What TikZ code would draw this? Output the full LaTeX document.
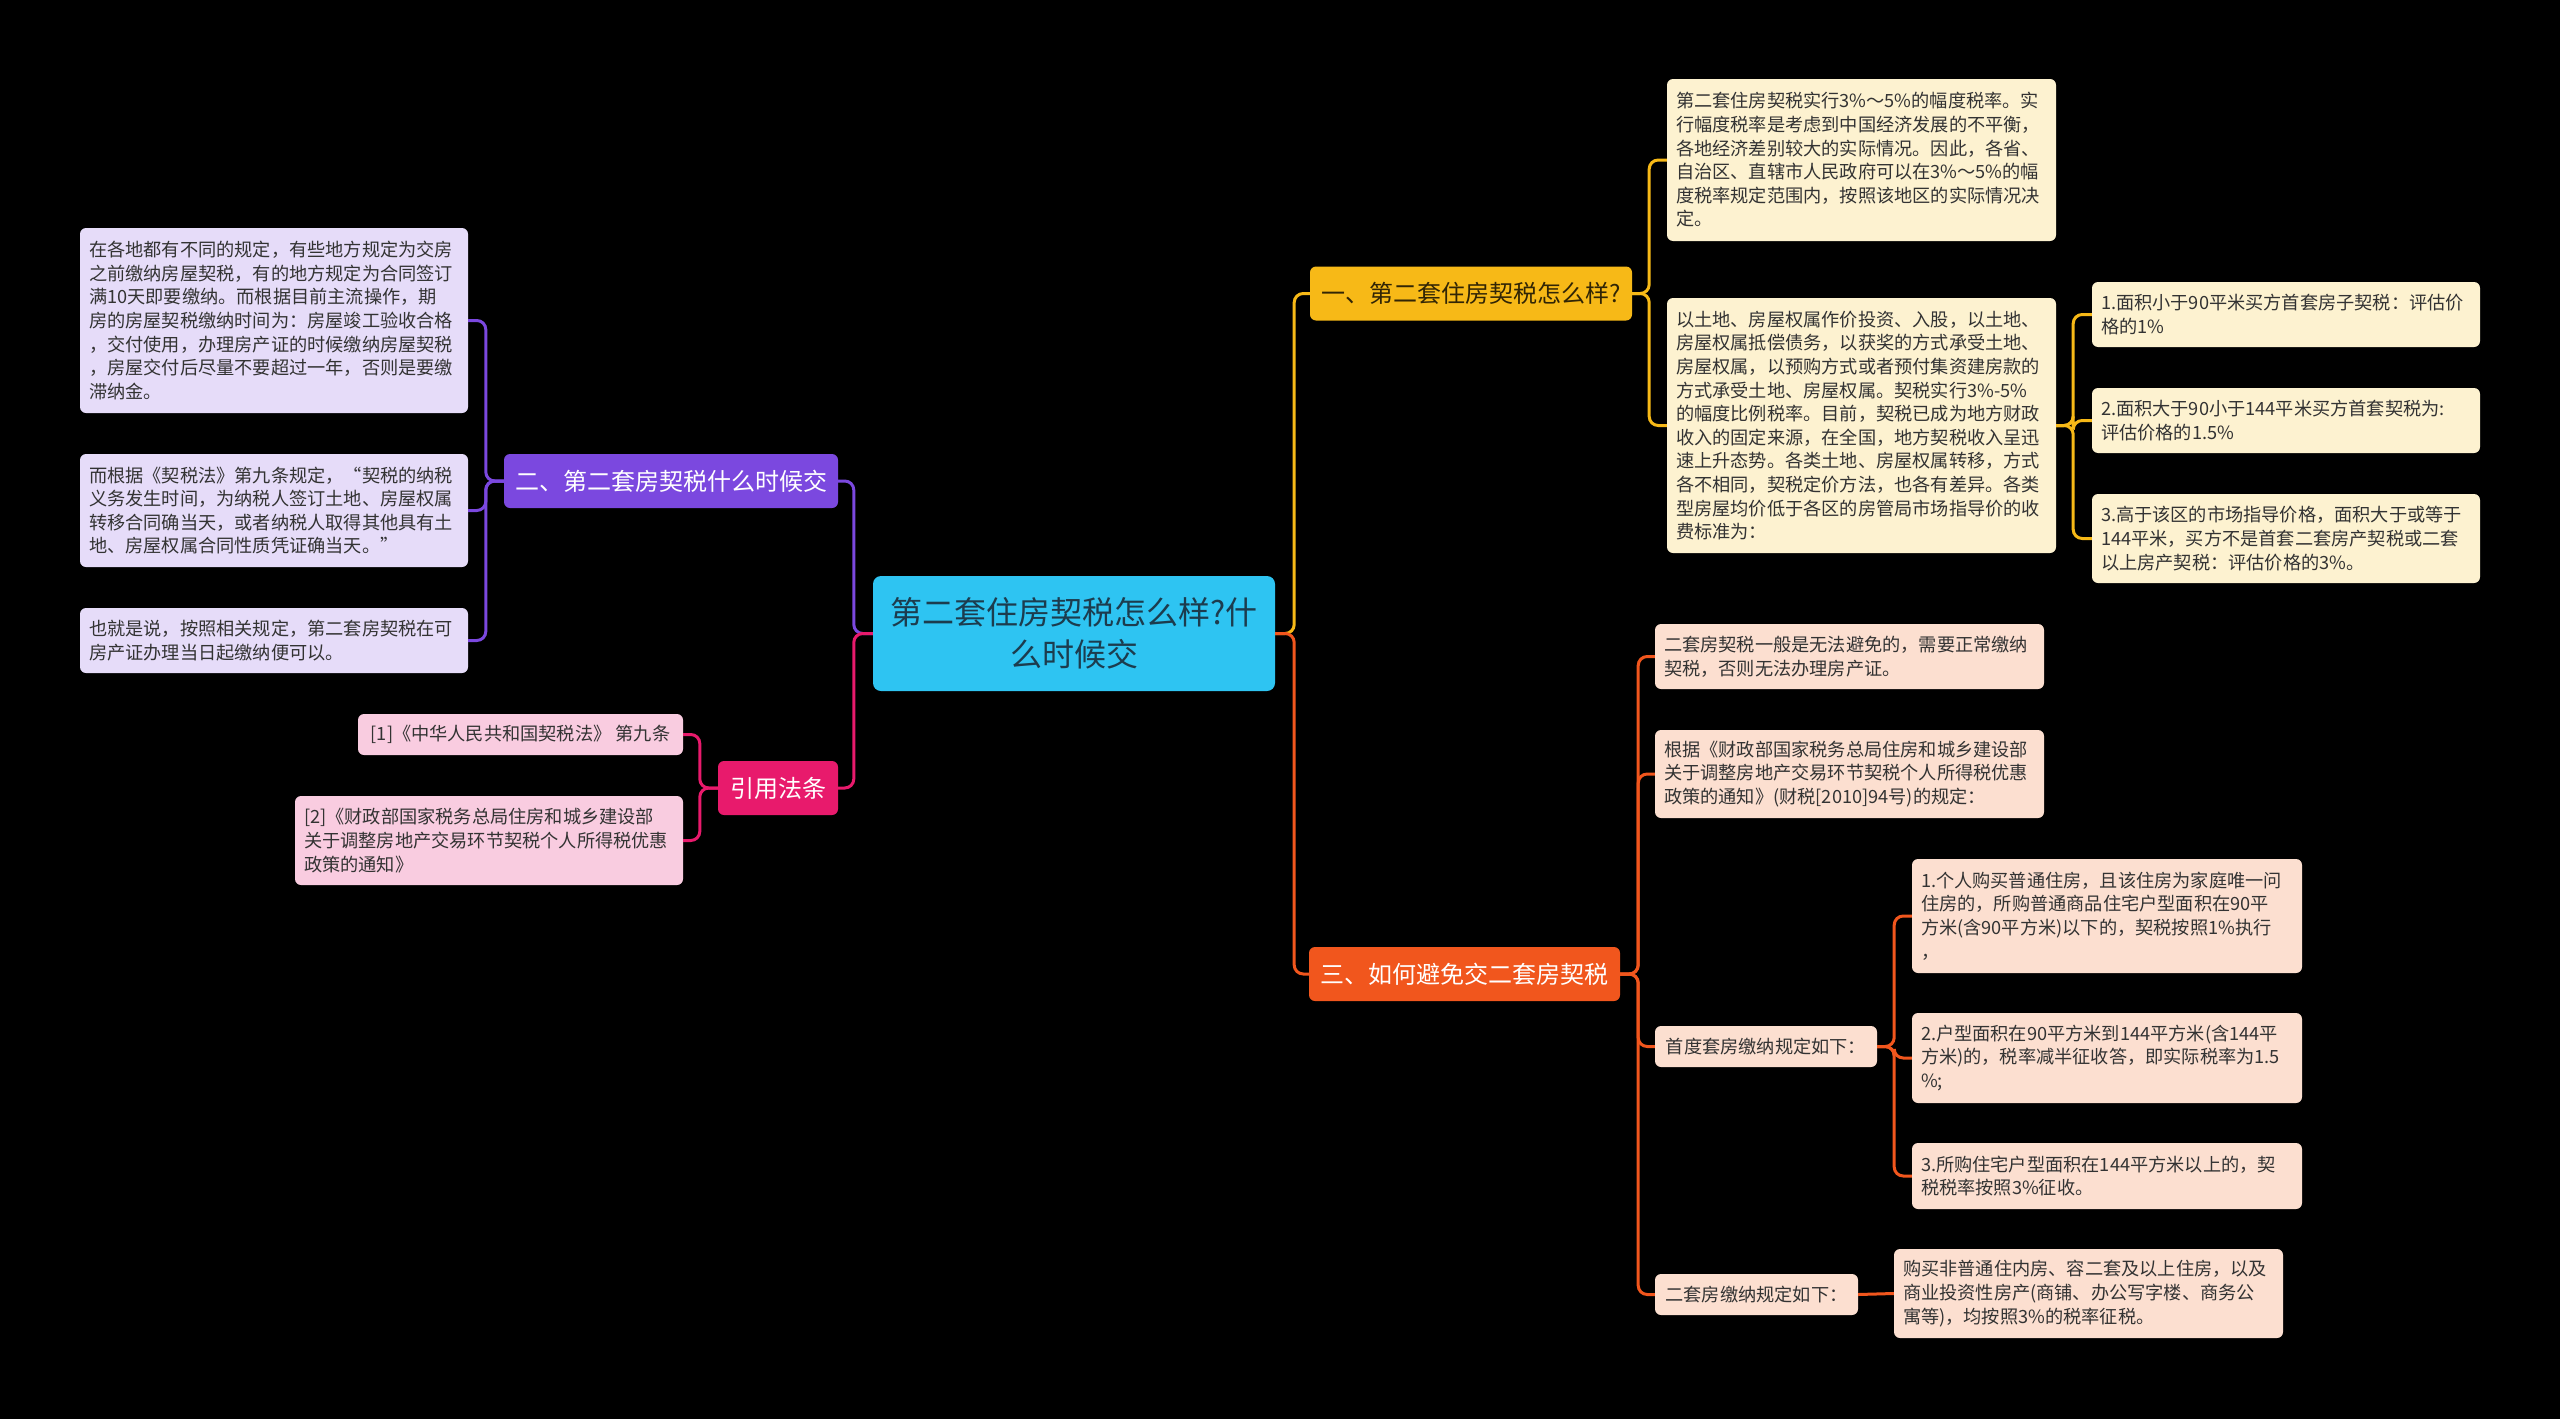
\documentclass[tikz,border=0pt]{standalone}
\usepackage{fontspec}
\setmainfont{Noto Sans CJK SC}
\definecolor{bgc}{HTML}{000000}
\definecolor{cenc}{HTML}{2EC4F2}
\definecolor{centxt}{HTML}{1C3C4E}
\definecolor{yb}{HTML}{F7B917}
\definecolor{yl}{HTML}{FDF2D0}
\definecolor{pb}{HTML}{7B48DF}
\definecolor{pl}{HTML}{E6DCF9}
\definecolor{kb}{HTML}{E81A6C}
\definecolor{kl}{HTML}{F9CCE0}
\definecolor{ob}{HTML}{F1561D}
\definecolor{ol}{HTML}{FCDFD0}
\definecolor{leaftxt}{HTML}{333333}
\tikzset{
  base/.style={rounded corners=6pt, inner ysep=0pt, inner xsep=9pt, anchor=center},
  leaf/.style={base, align=left, font=\fontsize{18.2}{23.6}\selectfont, text=leaftxt},
  branch/.style={base, align=center, font=\fontsize{24}{30}\selectfont, text=white, minimum height=54pt},
  conn/.style={line width=3pt, rounded corners=9pt, draw=#1}
}
\begin{document}
\begin{tikzpicture}[x=1pt,y=-1pt]
\fill[bgc] (0,0) rectangle (2560,1419);
\useasboundingbox (0,0) rectangle (2560,1419);

% central
\node[base, fill=cenc, text=centxt, align=center, text width=384pt, minimum height=115pt,
  font=\fontsize{32}{42}\selectfont, rounded corners=8pt] (C) at (1074,633.5)
  {第二套住房契税怎么样?什\\么时候交};

% branches
\node[branch, fill=yb, text=black!80!yb, minimum width=322pt] (B1) at (1471,293.5) {一、第二套住房契税怎么样?};
\node[branch, fill=pb, minimum width=334pt] (B2) at (671,481) {二、第二套房契税什么时候交};
\node[branch, fill=kb, minimum width=120pt] (B3) at (778,788) {引用法条};
\node[branch, fill=ob, minimum width=311pt] (B4) at (1464.5,974) {三、如何避免交二套房契税};

% yellow leaves
\node[leaf, fill=yl, text width=371pt, minimum height=162pt] (Y1) at (1861.5,160)
{第二套住房契税实行3\%～5\%的幅度税率。实\\行幅度税率是考虑到中国经济发展的不平衡，\\各地经济差别较大的实际情况。因此，各省、\\自治区、直辖市人民政府可以在3\%～5\%的幅\\度税率规定范围内，按照该地区的实际情况决\\定。};
\node[leaf, fill=yl, text width=371pt, minimum height=255pt] (Y2) at (1861.5,425.5)
{以土地、房屋权属作价投资、入股，以土地、\\房屋权属抵偿债务，以获奖的方式承受土地、\\房屋权属，以预购方式或者预付集资建房款的\\方式承受土地、房屋权属。契税实行3\%-5\%\\的幅度比例税率。目前，契税已成为地方财政\\收入的固定来源，在全国，地方契税收入呈迅\\速上升态势。各类土地、房屋权属转移，方式\\各不相同，契税定价方法，也各有差异。各类\\型房屋均价低于各区的房管局市场指导价的收\\费标准为：};
\node[leaf, fill=yl, text width=370pt, minimum height=65pt] (Ya) at (2286,314.5)
{1.面积小于90平米买方首套房子契税：评估价\\格的1\%};
\node[leaf, fill=yl, text width=370pt, minimum height=65pt] (Yb) at (2286,420.5)
{2.面积大于90小于144平米买方首套契税为:\\评估价格的1.5\%};
\node[leaf, fill=yl, text width=370pt, minimum height=89pt] (Yc) at (2286,538.5)
{3.高于该区的市场指导价格，面积大于或等于\\144平米，买方不是首套二套房产契税或二套\\以上房产契税：评估价格的3\%。};

% purple leaves
\node[leaf, fill=pl, text width=370pt, minimum height=185pt] (P1) at (274,320.5)
{在各地都有不同的规定，有些地方规定为交房\\之前缴纳房屋契税，有的地方规定为合同签订\\满10天即要缴纳。而根据目前主流操作，期\\房的房屋契税缴纳时间为：房屋竣工验收合格\\，交付使用，办理房产证的时候缴纳房屋契税\\，房屋交付后尽量不要超过一年，否则是要缴\\滞纳金。};
\node[leaf, fill=pl, text width=370pt, minimum height=113pt] (P2) at (274,510.5)
{而根据《契税法》第九条规定，“契税的纳税\\义务发生时间，为纳税人签订土地、房屋权属\\转移合同确当天，或者纳税人取得其他具有土\\地、房屋权属合同性质凭证确当天。”};
\node[leaf, fill=pl, text width=370pt, minimum height=65pt] (P3) at (274,640.5)
{也就是说，按照相关规定，第二套房契税在可\\房产证办理当日起缴纳便可以。};

% pink leaves
\node[leaf, fill=kl, align=center, minimum width=325pt, minimum height=41pt] (K1) at (520.5,734.5)
{[1]《中华人民共和国契税法》 第九条};
\node[leaf, fill=kl, text width=370pt, minimum height=89pt] (K2) at (489,840.5)
{[2]《财政部国家税务总局住房和城乡建设部\\关于调整房地产交易环节契税个人所得税优惠\\政策的通知》};

% orange leaves
\node[leaf, fill=ol, text width=371pt, minimum height=65pt] (O1) at (1849.5,656.5)
{二套房契税一般是无法避免的，需要正常缴纳\\契税，否则无法办理房产证。};
\node[leaf, fill=ol, text width=371pt, minimum height=88pt] (O2) at (1849.5,774)
{根据《财政部国家税务总局住房和城乡建设部\\关于调整房地产交易环节契税个人所得税优惠\\政策的通知》(财税[2010]94号)的规定：};
\node[leaf, fill=ol, align=center, minimum width=222pt, minimum height=41pt] (O3) at (1766,1046.5)
{首度套房缴纳规定如下：};
\node[leaf, fill=ol, align=center, minimum width=203pt, minimum height=41pt] (O4) at (1756.5,1294.5)
{二套房缴纳规定如下：};
\node[leaf, fill=ol, text width=372pt, minimum height=114pt] (Oa) at (2107,916)
{1.个人购买普通住房，且该住房为家庭唯一问\\住房的，所购普通商品住宅户型面积在90平\\方米(含90平方米)以下的，契税按照1\%执行\\，};
\node[leaf, fill=ol, text width=372pt, minimum height=90pt] (Ob) at (2107,1058)
{2.户型面积在90平方米到144平方米(含144平\\方米)的，税率减半征收答，即实际税率为1.5\\\%;};
\node[leaf, fill=ol, text width=372pt, minimum height=66pt] (Oc) at (2107,1176)
{3.所购住宅户型面积在144平方米以上的，契\\税税率按照3\%征收。};
\node[leaf, fill=ol, text width=371pt, minimum height=89pt] (Od) at (2088.5,1293.5)
{购买非普通住内房、容二套及以上住房，以及\\商业投资性房产(商铺、办公写字楼、商务公\\寓等)，均按照3\%的税率征税。};

% connectors
\draw[conn=yb] (C.east) -- ++(19,0) |- (B1.west);
\draw[conn=ob] (C.east) -- ++(19,0) |- (B4.west);
\draw[conn=pb] (C.west) -- ++(-19,0) |- (B2.east);
\draw[conn=kb] (C.west) -- ++(-19,0) |- (B3.east);

\draw[conn=yb] (B1.east) -- ++(17,0) |- (Y1.west);
\draw[conn=yb] (B1.east) -- ++(17,0) |- (Y2.west);
\draw[conn=yb] (Y2.east) -- ++(17,0) |- (Ya.west);
\draw[conn=yb] (Y2.east) -- ++(17,0) |- (Yb.west);
\draw[conn=yb] (Y2.east) -- ++(17,0) |- (Yc.west);

\draw[conn=pb] (B2.west) -- ++(-18,0) |- (P1.east);
\draw[conn=pb] (B2.west) -- ++(-18,0) |- (P2.east);
\draw[conn=pb] (B2.west) -- ++(-18,0) |- (P3.east);

\draw[conn=kb] (B3.west) -- ++(-18,0) |- (K1.east);
\draw[conn=kb] (B3.west) -- ++(-18,0) |- (K2.east);

\draw[conn=ob] (B4.east) -- ++(18,0) |- (O1.west);
\draw[conn=ob] (B4.east) -- ++(18,0) |- (O2.west);
\draw[conn=ob] (B4.east) -- ++(18,0) |- (O3.west);
\draw[conn=ob] (B4.east) -- ++(18,0) |- (O4.west);
\draw[conn=ob] (O3.east) -- ++(17,0) |- (Oa.west);
\draw[conn=ob] (O3.east) -- ++(17,0) |- (Ob.west);
\draw[conn=ob] (O3.east) -- ++(17,0) |- (Oc.west);
\draw[conn=ob] (O4.east) -- (Od.west);
\end{tikzpicture}
\end{document}
